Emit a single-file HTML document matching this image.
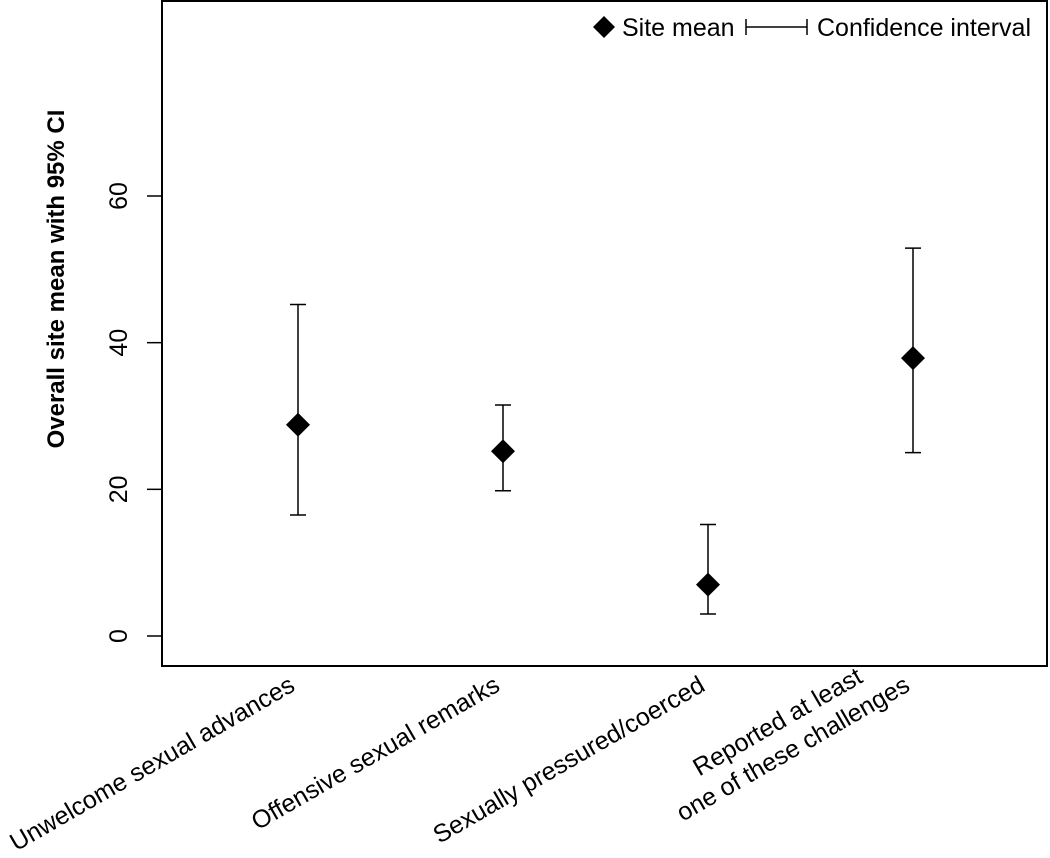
<!DOCTYPE html>
<html><head><meta charset="utf-8"><style>
html,body{margin:0;padding:0;background:#fff;}
svg{display:block;font-family:"Liberation Sans",Arial,sans-serif;}
</style></head><body>
<svg id="chart" width="1050" height="858" viewBox="0 0 1050 858">
<rect x="162" y="1" width="885" height="665" fill="none" stroke="#000" stroke-width="2"/>
<g id="yaxis"></g>
<g id="xaxis"></g>
<g id="marks"></g>
<text x="0" y="0" transform="translate(64,279) rotate(-90)" text-anchor="middle" font-size="24" font-weight="bold">Overall site mean with 95% CI</text>
<g>
<polygon points="604,16 615,27 604,38 593,27" fill="#000"/>
<text x="622" y="36" font-size="25">Site mean</text>
<path d="M746,19V35M746,27H807M807,19V35" stroke="#000" stroke-width="1.5" fill="none"/>
<text x="817" y="36" font-size="25">Confidence interval</text>
</g>
</svg>
<script>
const categories=[["Unwelcome sexual advances"],["Offensive sexual remarks"],["Sexually pressured/coerced"],["Reported at least","one of these challenges"]];
const means=[28.8,25.2,7.0,37.9];
const lower=[16.5,19.8,3.0,25.0];
const upper=[45.2,31.5,15.2,52.9];
const yTicks=[0,20,40,60];
const NS="http://www.w3.org/2000/svg";
function y(v){return 636-v*(440/60);}
function x(i){return 298+i*205;}
function mk(tag,attrs,parent){const e=document.createElementNS(NS,tag);for(const k in attrs)e.setAttribute(k,attrs[k]);parent.appendChild(e);return e;}
const ya=document.getElementById('yaxis'),xa=document.getElementById('xaxis'),mg=document.getElementById('marks');
yTicks.forEach(t=>{
 const l=mk('line',{x1:147,x2:162,y1:y(t),y2:y(t),stroke:'#000','stroke-width':1.5},ya);
 
 
 const tx=mk('text',{transform:`translate(127,${y(t)}) rotate(-90)`,'text-anchor':'middle','font-size':25},ya);
 tx.textContent=t;
 
 
});
categories.forEach((c,i)=>{
 const g=mk('g',{transform:`translate(${x(i)-6},682) rotate(-30)`},xa);
 
 
 if(c.length===1){
  const t=mk('text',{x:0,y:9,'text-anchor':'end','font-size':25},g);t.textContent=c[0];
 }else{
  const t2=mk('text',{x:0,y:9,'text-anchor':'end','font-size':25},g);t2.textContent=c[1];
  const w=t2.getComputedTextLength();
  const t1=mk('text',{x:-w/2,y:-22,'text-anchor':'middle','font-size':25},g);t1.textContent=c[0];
 }
 const ci=mk('path',{d:`M${x(i)-8},${y(upper[i])}H${x(i)+8}M${x(i)},${y(upper[i])}V${y(lower[i])}M${x(i)-8},${y(lower[i])}H${x(i)+8}`,stroke:'#000','stroke-width':1.5,fill:'none'},mg);
 
 
 const m=y(means[i]);
 const d=mk('polygon',{points:`${x(i)},${m-12} ${x(i)+12},${m} ${x(i)},${m+12} ${x(i)-12},${m}`,fill:'#000'},mg);
 
 
});
</script>
</body></html>
